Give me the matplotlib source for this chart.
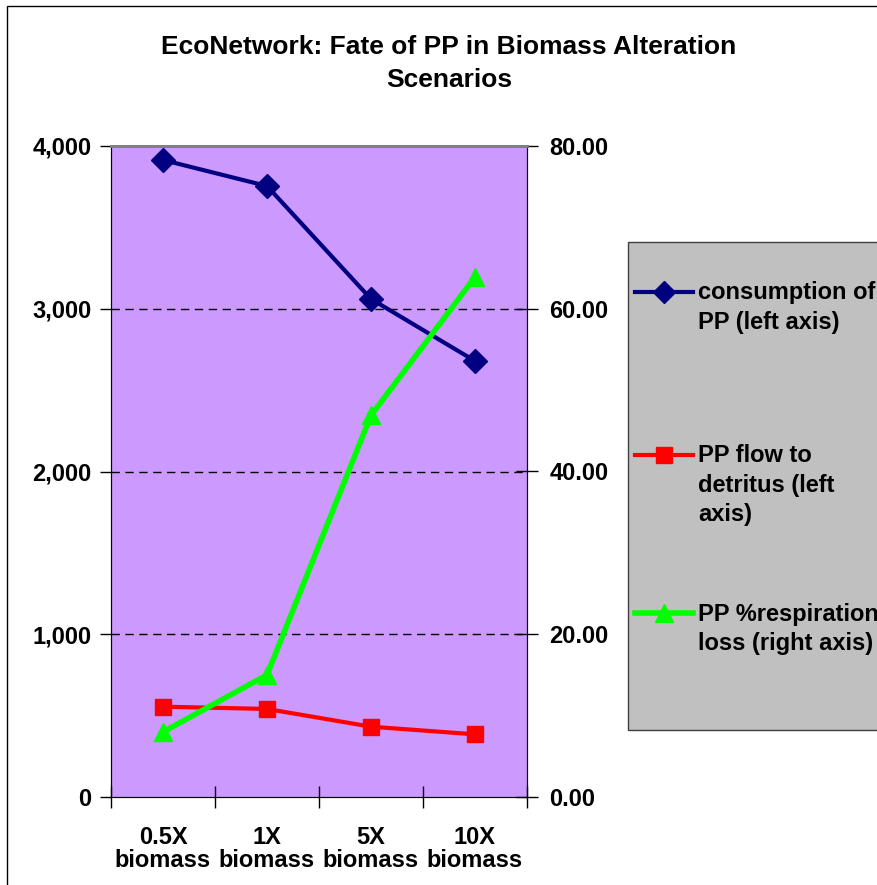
import numpy as np
import matplotlib
matplotlib.use("Agg")
import matplotlib.pyplot as plt
from matplotlib.patches import Rectangle
from matplotlib.lines import Line2D
from matplotlib.ticker import FuncFormatter, MultipleLocator

# scenario data
scenarios = ["0.5X\nbiomass", "1X\nbiomass", "5X\nbiomass", "10X\nbiomass"]
consumption_pp = [3914, 3754, 3060, 2679]      # left axis
pp_to_detritus = [555, 541, 432, 385]          # left axis
pp_resp_loss = [8.0, 15.0, 46.9, 63.9]         # right axis, percent

plt.rcParams["font.family"] = ["Liberation Sans", "DejaVu Sans"]
plt.rcParams["font.weight"] = "bold"

W, H = 878, 885
fig = plt.figure(figsize=(W / 100, H / 100), dpi=100)

# chart area outline
fig.add_artist(Rectangle((7 / W, -0.1), 1.2, 1 - 6 / H + 0.1, transform=fig.transFigure,
                         fill=False, edgecolor="black", lw=1.0))

ax = fig.add_axes([111 / W, 88 / H, 416 / W, 651 / H])
ax.set_facecolor("#CC99FF")
x = np.arange(len(scenarios))

ax.plot(x, consumption_pp, color="#000080", lw=3, marker="D", ms=12, zorder=3)
ax.plot(x, pp_to_detritus, color="#FF0000", lw=3, marker="s", ms=12, zorder=3)

ax.set_xlim(-0.5, len(scenarios) - 0.5)
ax.set_ylim(0, 4000)
ax.yaxis.set_major_locator(MultipleLocator(1000))
ax.yaxis.set_major_formatter(FuncFormatter(lambda v, p: f"{v:,.0f}"))
ax.set_xticks(np.arange(len(scenarios) + 1) - 0.5)
ax.set_xticklabels([])
ax.set_xticks(x, minor=True)
ax.set_xticklabels(scenarios, minor=True, fontsize=17, fontweight="bold", linespacing=1.0)
ax.tick_params(axis="x", which="minor", length=0, pad=21)
ax.tick_params(axis="x", which="major", direction="inout", length=16, width=1)
ax.tick_params(axis="y", direction="out", length=8, width=1, labelsize=17, pad=6)
for v in [1000, 2000, 3000]:
    ax.axhline(v, color="black", lw=1, ls=(0, (6, 4)), zorder=1)
ax.spines["top"].set_color("#808080")
ax.spines["top"].set_linewidth(2)

ax2 = ax.twinx()
ax2.plot(x, pp_resp_loss, color="#00FF00", lw=4, marker="^", ms=13, zorder=3)
ax2.set_ylim(0, 80)
ax2.yaxis.set_major_locator(MultipleLocator(20))
ax2.yaxis.set_major_formatter(FuncFormatter(lambda v, p: f"{v:.2f}"))
ax2.tick_params(axis="y", direction="inout", length=16, width=1, labelsize=17, pad=8)
ax2.spines["top"].set_color("#808080")
ax2.spines["top"].set_linewidth(2)

fig.text(449 / W, 1 - 47 / H, "EcoNetwork: Fate of PP in Biomass Alteration",
         ha="center", va="center", fontsize=19, fontweight="bold")
fig.text(449 / W, 1 - 80 / H, "Scenarios",
         ha="center", va="center", fontsize=19, fontweight="bold")

# legend box
fig.add_artist(Rectangle((628 / W, 1 - 730 / H), 0.5, 488 / H, transform=fig.transFigure,
                         facecolor="#C0C0C0", edgecolor="#404040", lw=1))
legend_items = [
    ("#000080", "D", 11, 3, 292, ["consumption of", "PP (left axis)"]),
    ("#FF0000", "s", 12, 3, 455, ["PP flow to", "detritus (left", "axis)"]),
    ("#00FF00", "^", 13, 4, 613, ["PP %respiration", "loss (right axis)"]),
]
for color, mk, ms, lw, ypx, lines in legend_items:
    yf = 1 - ypx / H
    fig.add_artist(Line2D([635 / W, 693 / W], [yf, yf], transform=fig.transFigure,
                          color=color, lw=lw))
    fig.add_artist(Line2D([664 / W], [yf], transform=fig.transFigure,
                          color=color, marker=mk, ms=ms, lw=0))
    for i, line in enumerate(lines):
        fig.text(698 / W, 1 - (ypx + 1 + 29.5 * i) / H, line, ha="left", va="center",
                 fontsize=17, fontweight="bold")

fig.savefig("out.png", dpi=100)
